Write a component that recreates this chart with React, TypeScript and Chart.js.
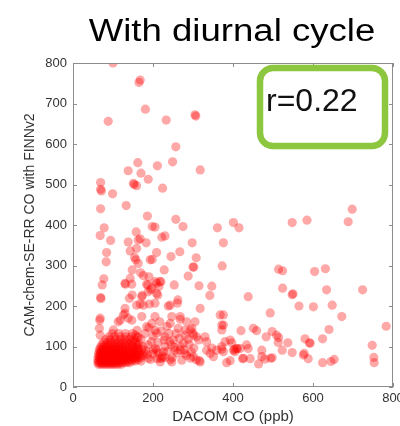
import React, { useEffect, useRef } from "react";
import { Chart, registerables } from "chart.js";

Chart.register(...registerables);

const titleText = "With diurnal cycle";
const xTitle = "DACOM CO (ppb)";
const yTitle = "CAM-chem-SE-RR CO with FINNv2";
const rLabel = "r=0.22";
const xTicks = [0, 200, 400, 600, 800];
const yTicks = [0, 100, 200, 300, 400, 500, 600, 700, 800];

// sparse points above the main cluster (x, y)
const highPoints: [number, number][] = [
  [100, 800], [168, 758], [165, 752], [181, 686], [88, 656], [233, 659], [307, 669], [305, 672],
  [257, 593], [162, 554], [211, 546], [249, 556], [138, 534], [170, 528], [318, 536], [188, 513],
  [69, 505], [151, 503], [153, 500], [159, 497], [69, 488], [71, 484], [99, 477], [224, 491],
  [133, 448], [69, 440], [186, 422], [198, 396], [205, 395], [257, 414], [275, 396], [361, 393],
  [401, 406], [415, 393], [78, 393], [68, 374], [94, 362], [158, 383], [163, 363], [168, 366],
  [138, 358], [183, 356], [222, 370], [230, 373], [298, 356], [376, 356], [84, 332], [143, 336],
  [159, 342], [209, 332], [267, 334], [245, 322], [154, 320], [157, 314], [193, 314], [198, 315],
  [83, 309], [308, 319], [163, 305], [148, 289], [228, 289], [169, 282], [176, 275], [300, 296],
  [302, 296], [373, 299], [288, 274], [77, 267], [143, 268], [190, 272], [220, 260], [206, 260],
  [215, 248], [194, 240], [187, 252], [131, 254], [73, 252], [253, 252], [315, 250], [347, 249],
  [173, 226], [148, 227], [69, 221], [70, 218], [212, 227], [342, 226], [262, 215], [130, 256],
  [147, 254], [184, 254], [197, 244], [209, 256], [217, 260], [141, 219], [172, 223], [130, 194],
  [159, 202], [168, 205], [191, 205], [238, 200], [261, 207], [318, 194], [376, 178], [67, 165],
  [66, 145], [101, 141], [113, 161], [130, 182], [138, 170], [147, 165], [172, 174], [184, 149],
  [197, 157], [217, 161], [205, 174], [247, 174], [268, 167], [243, 157], [263, 145], [280, 128],
  [305, 161], [297, 145], [300, 133], [309, 124], [330, 124], [334, 112], [376, 153], [372, 141],
  [68, 170], [68, 128], [118, 165], [126, 178], [176, 202], [188, 235], [209, 231], [243, 202],
  [205, 207], [268, 174], [284, 161], [293, 141], [301, 128], [276, 108], [314, 116], [368, 178],
  [372, 153], [380, 112], [393, 116], [209, 133], [230, 124], [251, 116],
];

// points to the right of the cluster (x, y)
const rightPoints: [number, number][] = [
  [548, 406], [585, 412], [688, 408], [698, 439], [514, 291], [524, 287], [604, 285], [631, 292],
  [524, 244], [634, 240], [724, 240], [548, 228], [550, 230], [438, 223], [565, 200], [601, 198],
  [648, 202], [672, 174], [783, 150], [493, 183], [420, 139], [451, 145], [459, 139], [483, 124],
  [498, 137], [509, 128], [514, 122], [513, 110], [537, 109], [580, 119], [591, 109], [624, 119],
  [640, 142], [748, 103], [752, 73], [753, 60], [397, 109], [404, 93], [409, 95], [434, 104],
  [438, 95], [472, 91], [523, 91], [548, 85], [578, 83], [588, 70], [424, 70], [443, 70],
  [472, 75], [480, 69], [494, 71], [498, 72], [464, 57], [624, 60], [645, 63], [653, 68],
  [393, 65], [418, 95], [384, 60], [411, 95], [359, 91], [372, 93], [343, 83], [351, 75],
  [316, 65], [308, 67], [294, 71], [280, 83], [268, 91], [247, 62], [222, 71], [230, 73],
  [209, 91], [593, 108], [576, 79], [347, 96], [376, 87], [401, 91], [426, 71], [318, 62],
  [334, 91], [372, 100], [405, 87], [301, 75],
];

// medium density points next to the cluster (x, y)
const midPoints: [number, number][] = [
  [152, 72], [158, 84], [164, 96], [170, 64], [176, 78], [182, 90], [188, 104], [194, 68],
  [200, 82], [206, 95], [212, 110], [218, 62], [224, 76], [230, 100], [236, 88], [242, 112],
  [248, 72], [254, 98], [260, 84], [266, 120], [272, 66], [278, 92], [284, 78], [290, 106],
  [296, 86], [302, 96], [170, 118], [180, 132], [160, 140], [200, 126], [190, 146], [220, 138],
  [235, 150], [150, 112], [165, 106], [210, 70], [228, 116], [258, 132], [288, 118], [175, 100],
  [196, 112], [214, 84], [246, 104], [268, 100], [186, 80], [163, 122], [156, 128], [205, 140],
  [240, 132], [280, 140], [201, 91], [226, 87], [255, 91], [243, 67], [218, 71], [188, 71],
];

// dense core: y of each row and the x values in that row
const coreRowY = [56, 60, 64, 68, 72, 76, 80, 84, 88, 93, 98, 104, 110, 117, 124, 132];
const coreRowX = [
  [64, 70, 76, 82, 88, 94, 100, 106, 113, 121],
  [62, 67, 73, 79, 85, 91, 97, 103, 110, 117, 125, 133, 141],
  [65, 71, 77, 83, 89, 95, 101, 108, 115, 122, 130, 138, 147, 156],
  [62, 68, 74, 80, 86, 92, 98, 105, 112, 119, 127, 135, 144, 153, 162],
  [66, 72, 78, 84, 90, 96, 103, 110, 117, 125, 133, 142, 151, 160, 170],
  [63, 69, 75, 81, 87, 93, 100, 107, 114, 122, 130, 139, 148, 158, 168],
  [67, 73, 79, 85, 91, 98, 105, 112, 120, 128, 137, 146, 156, 166],
  [64, 70, 76, 82, 89, 96, 103, 110, 118, 126, 135, 144, 154, 165, 178],
  [68, 74, 80, 87, 94, 101, 108, 116, 124, 133, 142, 152, 163],
  [66, 72, 79, 86, 93, 100, 107, 115, 123, 132, 141, 151, 161, 172],
  [69, 76, 83, 90, 98, 106, 114, 122, 131, 140, 150, 159],
  [72, 80, 88, 96, 104, 112, 121, 130, 139, 149, 160],
  [76, 86, 95, 105, 114, 124, 134, 145, 157],
  [82, 94, 106, 118, 129, 141, 153],
  [90, 104, 118, 132, 146, 161],
  [98, 114, 131, 149],
];

const FRAME = { left: 73, right: 393, top: 63, bottom: 387 };

export default function App() {
  const ref = useRef<HTMLCanvasElement | null>(null);

  useEffect(() => {
    document.body.style.margin = "0";
    document.documentElement.style.overflow = "hidden";
    const canvas = ref.current;
    if (!canvas) return;

    const pts: { x: number; y: number }[] = [];
    coreRowY.forEach((y, i) => coreRowX[i].forEach((x) => pts.push({ x, y })));
    midPoints.forEach(([x, y]) => pts.push({ x, y }));
    highPoints.forEach(([x, y]) => pts.push({ x, y }));
    rightPoints.forEach(([x, y]) => pts.push({ x, y }));

    const framePlugin = {
      id: "frame",
      beforeDraw(chart: any) {
        const ctx = chart.ctx;
        ctx.save();
        ctx.fillStyle = "#ffffff";
        ctx.fillRect(0, 0, chart.width, chart.height);
        ctx.fillStyle = "#000000";
        ctx.font = "31px 'Liberation Sans', Arial, sans-serif";
        ctx.textAlign = "center";
        ctx.textBaseline = "alphabetic";
        ctx.translate(232, 41);
        ctx.scale(1.18, 1);
        ctx.fillText(titleText, 0, 0);
        ctx.restore();
      },
      afterDatasetsDraw(chart: any) {
        const ctx = chart.ctx;
        const { left, right, top, bottom } = chart.chartArea;
        const xs = chart.scales.x;
        const ys = chart.scales.y;
        ctx.save();
        ctx.strokeStyle = "#8c8c8c";
        ctx.lineWidth = 1;
        ctx.strokeRect(left + 0.5, top + 0.5, right - left - 1, bottom - top - 1);
        ctx.beginPath();
        xTicks.forEach((v) => {
          const px = Math.round(xs.getPixelForValue(v)) + 0.5;
          ctx.moveTo(px, bottom);
          ctx.lineTo(px, bottom - 4);
          ctx.moveTo(px, top);
          ctx.lineTo(px, top + 4);
        });
        yTicks.forEach((v) => {
          const py = Math.round(ys.getPixelForValue(v)) + 0.5;
          ctx.moveTo(left, py);
          ctx.lineTo(left + 4, py);
          ctx.moveTo(right, py);
          ctx.lineTo(right - 4, py);
        });
        ctx.stroke();
        ctx.restore();
      },
      afterDraw(chart: any) {
        const ctx = chart.ctx;
        ctx.save();
        ctx.beginPath();
        ctx.roundRect(260, 68, 125, 78, 13);
        ctx.fillStyle = "#ffffff";
        ctx.fill();
        ctx.lineWidth = 6.5;
        ctx.strokeStyle = "#8dc63f";
        ctx.stroke();
        ctx.fillStyle = "#111111";
        ctx.font = "32px 'Liberation Sans', Arial, sans-serif";
        ctx.textAlign = "left";
        ctx.textBaseline = "alphabetic";
        ctx.fillText(rLabel, 266, 111);
        ctx.restore();
      },
    };

    const chart = new Chart(canvas, {
      type: "scatter",
      data: {
        datasets: [
          {
            data: pts,
            backgroundColor: "rgba(255,0,0,0.34)",
            borderWidth: 0,
            pointRadius: 4.6,
            pointHoverRadius: 4.6,
          },
        ],
      },
      options: {
        animation: false,
        responsive: false,
        events: [],
        layout: {
          autoPadding: false,
          padding: { top: FRAME.top, right: 400 - FRAME.right, bottom: 0, left: 0 },
        },
        plugins: {
          legend: { display: false },
          tooltip: { enabled: false },
          title: { display: false },
        },
        scales: {
          x: {
            type: "linear",
            min: 0,
            max: 800,
            afterFit: (s: any) => {
              s.height = 426 - FRAME.bottom;
              s.paddingLeft = 0;
              s.paddingRight = 0;
            },
            afterBuildTicks: (s: any) => {
              s.ticks = xTicks.map((v) => ({ value: v }));
            },
            ticks: {
              font: { size: 13, family: "'Liberation Sans', Arial, sans-serif" },
              color: "#333333",
              padding: 4,
              maxRotation: 0,
              autoSkip: false,
            },
            grid: { display: false, drawTicks: false },
            border: { display: false },
            title: {
              display: true,
              text: xTitle,
              font: { size: 15, family: "'Liberation Sans', Arial, sans-serif" },
              color: "#333333",
              padding: { top: 0, bottom: 0 },
            },
          },
          y: {
            type: "linear",
            min: 0,
            max: 800,
            afterFit: (s: any) => {
              s.width = FRAME.left;
              s.paddingTop = 0;
              s.paddingBottom = 0;
            },
            afterBuildTicks: (s: any) => {
              s.ticks = yTicks.map((v) => ({ value: v }));
            },
            ticks: {
              font: { size: 13, family: "'Liberation Sans', Arial, sans-serif" },
              color: "#333333",
              padding: 6,
              autoSkip: false,
            },
            grid: { display: false, drawTicks: false },
            border: { display: false },
            title: {
              display: true,
              text: yTitle,
              font: { size: 14, family: "'Liberation Sans', Arial, sans-serif" },
              color: "#333333",
              padding: { top: 22, bottom: 0 },
            },
          },
        },
      },
      plugins: [framePlugin],
    });

    return () => chart.destroy();
  }, []);

  return (
    <div style={{ width: 400, height: 426, position: "relative", overflow: "hidden" }}>
      <canvas ref={ref} width={400} height={426} style={{ width: 400, height: 426, display: "block" }} />
    </div>
  );
}
